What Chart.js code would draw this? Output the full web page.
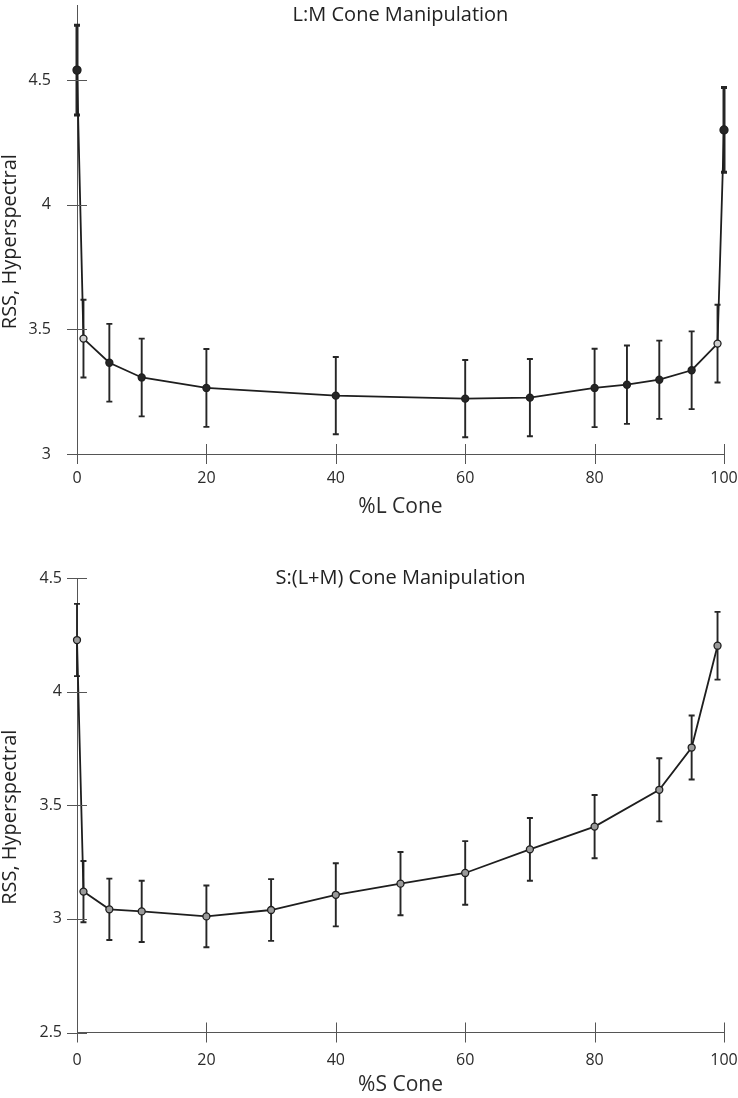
<!DOCTYPE html>
<html>
<head>
<meta charset="utf-8">
<script src="https://cdn.jsdelivr.net/npm/chart.js@4.4.0/dist/chart.umd.min.js"></script>
<style>
  body { margin: 0; background: #fff; }
  canvas { display: block; }
</style>
</head>
<body>
<canvas id="chartLM" width="738" height="540"></canvas>
<canvas id="chartS" width="738" height="558"></canvas>
<script>
// L:M cone panel (top)
const lmCone = [0, 1, 5, 10, 20, 40, 60, 70, 80, 85, 90, 95, 99, 100];
const lmRss  = [4.54, 3.463, 3.366, 3.307, 3.265, 3.234, 3.222, 3.226, 3.265, 3.278, 3.298, 3.336, 3.443, 4.30];
const lmErr  = [0.18, 0.156, 0.156, 0.156, 0.156, 0.155, 0.155, 0.155, 0.157, 0.157, 0.157, 0.156, 0.156, 0.17];

// S:(L+M) cone panel (bottom)
const sCone = [0, 1, 5, 10, 20, 30, 40, 50, 60, 70, 80, 90, 95, 99];
const sRss  = [4.227, 3.12, 3.042, 3.033, 3.011, 3.039, 3.106, 3.155, 3.202, 3.306, 3.406, 3.568, 3.754, 4.202];
const sErr  = [0.159, 0.135, 0.135, 0.135, 0.136, 0.136, 0.139, 0.139, 0.14, 0.138, 0.139, 0.139, 0.141, 0.149];

// tick labels
const xTicks = [0, 20, 40, 60, 80, 100];
const lmYTicks = [3, 3.5, 4, 4.5];
const sYTicks = [2.5, 3, 3.5, 4, 4.5];

Chart.defaults.font.family = '"Open Sans", sans-serif';
Chart.defaults.color = '#2b2b2b';

// vertical error bars with small caps, drawn under the markers
const errorBars = {
  id: 'errorBars',
  beforeDatasetsDraw(chart, args, opts) {
    const {ctx, scales: {x, y}} = chart;
    ctx.save();
    ctx.strokeStyle = '#262626';
    chart.data.datasets[0].data.forEach((p, i) => {
      const px = x.getPixelForValue(p.x);
      const hi = y.getPixelForValue(p.y + opts.err[i]);
      const lo = y.getPixelForValue(p.y - opts.err[i]);
      ctx.lineWidth = opts.bold.includes(i) ? 3 : 1.9;
      ctx.beginPath();
      ctx.moveTo(px, hi); ctx.lineTo(px, lo);
      ctx.moveTo(px - 3, hi); ctx.lineTo(px + 3, hi);
      ctx.moveTo(px - 3, lo); ctx.lineTo(px + 3, lo);
      ctx.stroke();
    });
    ctx.restore();
  }
};

// tick marks that cross the axis line on both sides
const crossTicks = {
  id: 'crossTicks',
  afterDraw(chart) {
    const {ctx, scales: {x, y}} = chart;
    ctx.save();
    ctx.strokeStyle = '#555';
    ctx.lineWidth = 1;
    ctx.beginPath();
    x.ticks.forEach(t => {
      const px = Math.round(x.getPixelForValue(t.value)) + 0.5;
      ctx.moveTo(px, y.bottom - 10); ctx.lineTo(px, y.bottom + 10);
    });
    y.ticks.forEach(t => {
      const py = Math.round(y.getPixelForValue(t.value)) + 0.5;
      ctx.moveTo(x.left - 10, py); ctx.lineTo(x.left + 10, py);
    });
    ctx.stroke();
    ctx.restore();
  }
};

// panel title inside the plot area + rotated y title a bit below centre
const panelText = {
  id: 'panelText',
  afterDraw(chart, args, opts) {
    const {ctx, chartArea} = chart;
    ctx.save();
    ctx.fillStyle = '#222';
    ctx.textAlign = 'center';
    ctx.textBaseline = 'middle';
    ctx.font = '20px "Open Sans"';
    ctx.fillText(opts.title, (chartArea.left + chartArea.right) / 2, opts.titleY);
    ctx.translate(10, (chartArea.top + chartArea.bottom) / 2 + 12);
    ctx.rotate(-Math.PI / 2);
    ctx.fillText('RSS, Hyperspectral', 0, 0);
    ctx.restore();
  }
};

function makePanel(id, cfg) {
  return new Chart(document.getElementById(id), {
    type: 'line',
    data: {
      datasets: [{
        data: cfg.x.map((v, i) => ({x: v, y: cfg.y[i]})),
        borderColor: '#1e1e1e',
        borderWidth: 1.8,
        pointRadius: cfg.radius,
        pointBackgroundColor: cfg.fill,
        pointBorderColor: '#1e1e1e',
        pointBorderWidth: 1.3,
        tension: 0,
        clip: false
      }]
    },
    options: {
      responsive: false,
      animation: false,
      devicePixelRatio: 1,
      layout: {padding: {top: cfg.top, right: 14, left: 0, bottom: 0}},
      plugins: {
        legend: {display: false},
        tooltip: {enabled: false},
        panelText: {title: cfg.title, titleY: cfg.titleY},
        errorBars: {err: cfg.err, bold: cfg.bold}
      },
      scales: {
        x: {
          type: 'linear', min: 0, max: 100,
          grid: {display: false, drawTicks: false},
          border: {color: '#555', width: 1},
          ticks: {font: {size: 16}, padding: cfg.xPad},
          afterBuildTicks: s => { s.ticks = xTicks.map(v => ({value: v})); },
          afterFit: s => { s.height = cfg.xHeight; s.paddingLeft = 0; s.paddingRight = 0; },
          title: {display: true, text: cfg.xTitle, font: {size: 21}, padding: {top: 0, bottom: cfg.xTitlePad}}
        },
        y: {
          min: cfg.yMin, max: cfg.yMax,
          grid: {display: false, drawTicks: false},
          border: {color: '#555', width: 1},
          ticks: {font: {size: 16}, padding: cfg.yPad, callback: v => String(v)},
          afterBuildTicks: s => { s.ticks = cfg.yTicks.map(v => ({value: v})); },
          afterFit: s => { s.width = 77; s.paddingTop = 0; s.paddingBottom = 0; }
        }
      }
    },
    plugins: [errorBars, crossTicks, panelText]
  });
}

makePanel('chartLM', {
  x: lmCone, y: lmRss, err: lmErr, bold: [0, lmCone.length - 1],
  radius: lmCone.map((c, i) => (i === 0 || i === lmCone.length - 1) ? 4 : 3.5),
  fill: lmCone.map((c, i) => (i === 1 || i === 12) ? '#cfcfcf' : '#262626'),
  title: 'L:M Cone Manipulation', titleY: 15,
  xTitle: '%L Cone', yMin: 3, yMax: 4.8, yTicks: lmYTicks,
  top: 0, xHeight: 86, xPad: 15, xTitlePad: 20, yPad: 26
});

makePanel('chartS', {
  x: sCone, y: sRss, err: sErr, bold: [],
  radius: 3.5,
  fill: '#9a9a9a',
  title: 'S:(L+M) Cone Manipulation', titleY: 38,
  xTitle: '%S Cone', yMin: 2.5, yMax: 4.5, yTicks: sYTicks,
  top: 38, xHeight: 65.5, xPad: 18, xTitlePad: 0, yPad: 15
});
</script>
</body>
</html>
